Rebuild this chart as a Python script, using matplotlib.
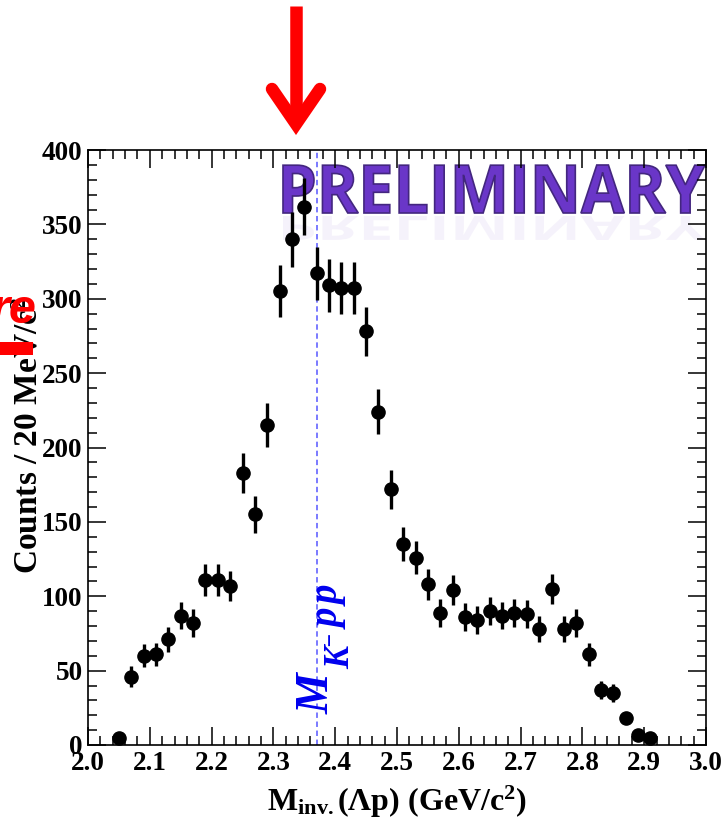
import numpy as np
import matplotlib
matplotlib.use('Agg')
import matplotlib.pyplot as plt
from matplotlib.ticker import MultipleLocator, FormatStrFormatter
from matplotlib.textpath import TextPath
from matplotlib.patches import PathPatch, Rectangle
from matplotlib.font_manager import FontProperties
from matplotlib.transforms import Affine2D, IdentityTransform
from matplotlib.lines import Line2D

plt.rcParams['font.family'] = 'Liberation Serif'
plt.rcParams['font.weight'] = 'bold'
plt.rcParams['axes.labelweight'] = 'bold'
plt.rcParams['mathtext.fontset'] = 'custom'
plt.rcParams['mathtext.rm'] = 'Liberation Serif:bold'
plt.rcParams['mathtext.bf'] = 'Liberation Serif:bold'
plt.rcParams['mathtext.it'] = 'Liberation Serif:bold:italic'

# Lambda-p invariant mass, 20 MeV bins
bin_centers = np.round(np.arange(2.05, 2.915, 0.02), 2)
counts = [5, 46, 60, 61, 71, 87, 82, 111, 111, 107,
          183, 155, 215, 305, 340, 362, 317, 309, 307, 307,
          278, 224, 172, 135, 126, 108, 89, 104, 86, 84,
          90, 87, 89, 88, 78, 105, 78, 82, 61, 37,
          35, 18, 7, 5]
errors = [2.2, 6.8, 7.7, 7.8, 8.4, 9.3, 9.1, 10.5, 10.5, 10.3,
          13.5, 12.4, 14.7, 17.5, 18.4, 19.0, 17.8, 17.6, 17.5, 17.5,
          16.7, 15.0, 13.1, 11.6, 11.2, 10.4, 9.4, 10.2, 9.3, 9.2,
          9.5, 9.3, 9.4, 9.4, 8.8, 10.2, 8.8, 9.1, 7.8, 6.1,
          5.9, 4.2, 2.6, 2.2]
m_kpp = 2.370  # 2*M_p + M_K threshold

W, H = 721, 826
fig = plt.figure(figsize=(W / 100, H / 100), dpi=100)
ax = fig.add_axes([88 / W, 81 / H, 618 / W, 595 / H])

ax.errorbar(bin_centers, counts, yerr=errors, fmt='o', color='black',
            markersize=9.5, elinewidth=2.4, capsize=0, zorder=3)
ax.axvline(m_kpp, color='#6f6fff', lw=1.3, ls=(0, (3, 2)), zorder=2)

ax.set_xlim(2.0, 3.0)
ax.set_ylim(0, 400)
ax.xaxis.set_major_locator(MultipleLocator(0.1))
ax.xaxis.set_minor_locator(MultipleLocator(0.02))
ax.xaxis.set_major_formatter(FormatStrFormatter('%.1f'))
ax.yaxis.set_major_locator(MultipleLocator(50))
ax.yaxis.set_minor_locator(MultipleLocator(10))
ax.tick_params(which='both', direction='in', top=True, right=True,
               labelsize=19.5, width=1.1, pad=4)
ax.tick_params(which='major', length=13)
ax.tick_params(which='minor', length=6.5)
for s in ax.spines.values():
    s.set_linewidth(1.2)

ax.set_xlabel(r'$\mathrm{M_{inv.}(\Lambda p)\ (GeV/c^{2})}$', fontsize=23, labelpad=6)
ax.set_ylabel(r'Counts / 20 MeV/c$^{2}$', fontsize=24, fontweight='bold')
ax.yaxis.set_label_coords(-0.07, 0.52)

# vertical M_{K^- pp} label, pieced together glyph by glyph (pixel positions)
lab = dict(transform=IdentityTransform(), rotation=90, rotation_mode='anchor',
           ha='left', va='baseline', color='#0000ee', fontweight='bold',
           fontstyle='italic', family='Liberation Serif')
fig.text(329, H - 714, 'M', fontsize=33, **lab)
fig.text(349, H - 669, 'K', fontsize=25, **lab)
fig.text(336, H - 646, '\u2212', fontsize=17, **lab)
fig.text(340, H - 629, 'p', fontsize=28, **lab)
fig.text(340, H - 606, 'p', fontsize=28, **lab)

# PRELIMINARY stamp with a faint reflection
fp = FontProperties(family='Open Sans', weight='bold')
tp = TextPath((0, 0), 'PRELIMINARY', size=100, prop=fp)
ext = tp.get_extents()
sx = 422 / ext.width
sy = 48 / ext.height
base = Affine2D().translate(-ext.x0, -ext.y0)
main_tr = base + Affine2D().scale(sx, sy).translate(283, H - 213)
refl_tr = base + Affine2D().scale(sx, -sy * 0.5).translate(283, H - 216)
ax.add_patch(PathPatch(tp, transform=refl_tr, facecolor='#b39ae0', edgecolor='none',
                       alpha=0.12, clip_on=False, zorder=1.5))
ax.add_patch(PathPatch(tp, transform=main_tr, facecolor='#6a36c8', edgecolor='#43267f',
                       lw=1.2, clip_on=False, zorder=1.5))

# red arrow on top
arrow_kw = dict(transform=IdentityTransform(), color='#ff0000', lw=9)
fig.add_artist(Line2D([296, 296], [H - 6, H - 122], solid_capstyle='butt', **arrow_kw))
fig.add_artist(Line2D([272, 296, 320], [H - 89, H - 124, H - 89],
                      solid_capstyle='round', solid_joinstyle='miter', **arrow_kw))

# red fragment at the left edge
fig.text(36 / W, 1 - 323 / H, 're', ha='right', va='baseline', color='#ff0000',
         fontsize=35, fontweight='bold', fontstyle='italic', family='Liberation Sans')
fig.add_artist(Rectangle((0, H - 355), 33, 13, transform=IdentityTransform(),
                         facecolor='#ff0000', edgecolor='none'))

fig.savefig('out.png', dpi=100)
